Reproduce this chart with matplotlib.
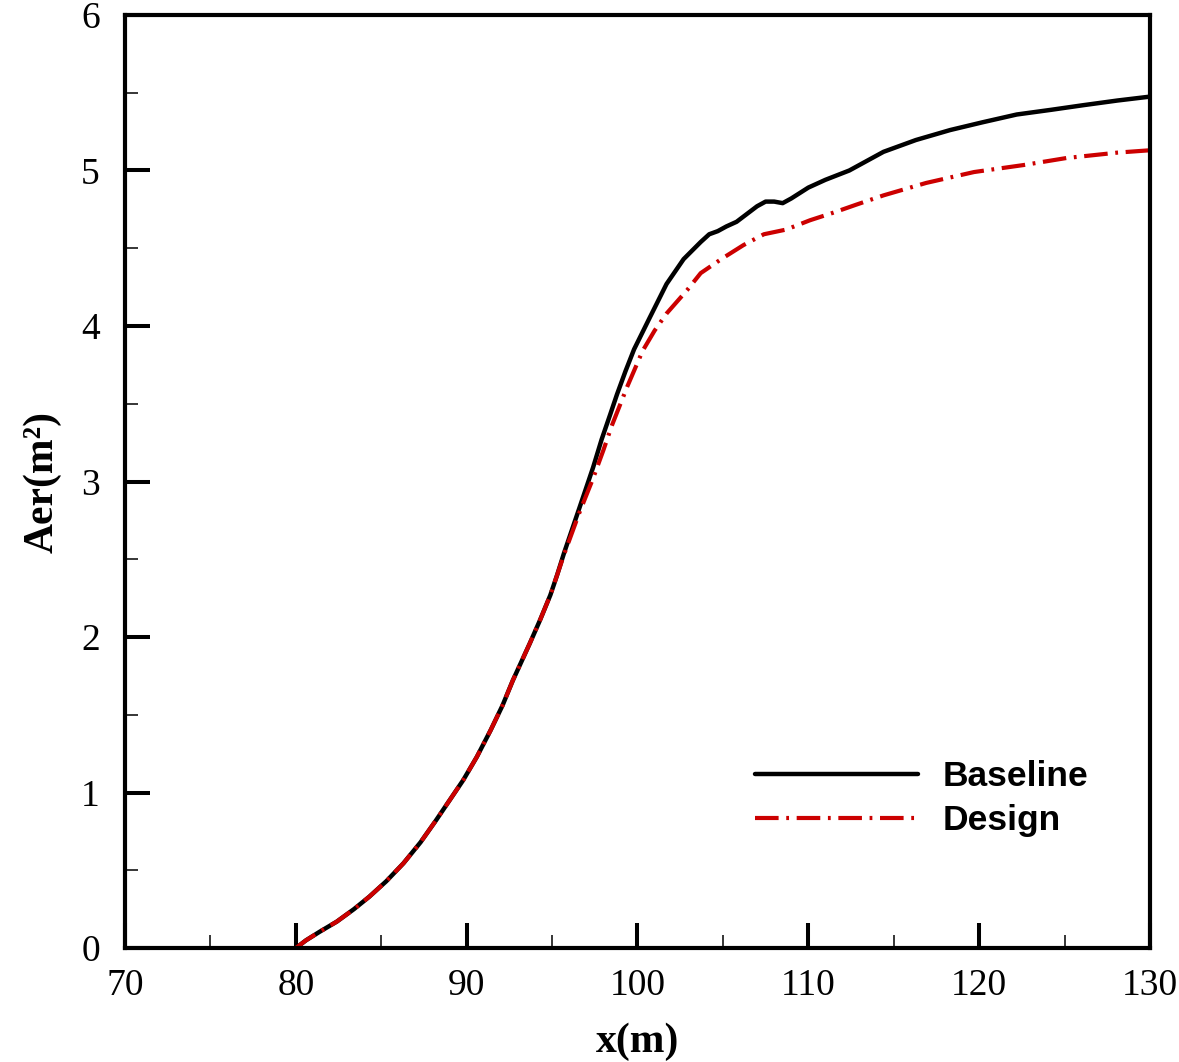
import matplotlib
matplotlib.use("Agg")
import matplotlib.pyplot as plt
from matplotlib.ticker import MultipleLocator

plt.rcParams["font.family"] = ["Liberation Serif", "DejaVu Serif"]
plt.rcParams["lines.scale_dashes"] = False

# Baseline curve
base_x = [80.0, 80.6, 81.4, 82.4, 83.4, 84.3, 85.3, 86.3, 87.3, 88.2, 89.0,
          89.8, 90.6, 91.4, 92.1, 92.7, 93.7, 94.3, 94.9, 95.3, 95.7, 96.6,
          97.0, 97.4, 97.9, 98.4, 98.8, 99.3, 99.8, 100.7, 101.7, 102.7,
          103.7, 104.2, 104.7, 105.2, 105.8, 106.4, 107.0, 107.5, 108.0,
          108.5, 109.0, 110.0, 111.0, 112.4, 114.4, 116.3, 118.3, 120.2,
          122.2, 124.2, 126.1, 128.1, 130.0]
base_y = [0.0, 0.05, 0.105, 0.17, 0.25, 0.33, 0.43, 0.545, 0.68, 0.82, 0.95,
          1.08, 1.23, 1.40, 1.56, 1.72, 1.96, 2.11, 2.27, 2.40, 2.54, 2.83,
          2.96, 3.09, 3.27, 3.43, 3.56, 3.71, 3.85, 4.05, 4.27, 4.43,
          4.54, 4.59, 4.61, 4.64, 4.67, 4.72, 4.77, 4.80, 4.80,
          4.79, 4.82, 4.89, 4.94, 5.00, 5.12, 5.196, 5.26, 5.31,
          5.36, 5.39, 5.42, 5.45, 5.475]

# Design curve
design_x = [80.0, 80.6, 81.4, 82.4, 83.4, 84.3, 85.3, 86.3, 87.3, 88.2, 89.0,
            89.8, 90.6, 91.4, 92.1, 92.7, 93.7, 94.3, 94.9, 95.3, 95.7, 96.6,
            97.4, 98.0, 98.5, 99.4, 100.3, 101.0, 101.7, 102.9, 103.7, 104.9,
            106.2, 107.4, 108.7, 110.1, 111.5, 112.8, 114.4, 116.9, 119.7,
            122.6, 125.1, 128.1, 130.0]
design_y = [0.0, 0.05, 0.105, 0.17, 0.25, 0.33, 0.43, 0.545, 0.68, 0.82, 0.95,
            1.08, 1.23, 1.40, 1.56, 1.72, 1.96, 2.11, 2.27, 2.40, 2.53, 2.80,
            3.02, 3.20, 3.36, 3.61, 3.84, 3.97, 4.08, 4.23, 4.34, 4.43,
            4.52, 4.59, 4.62, 4.68, 4.73, 4.78, 4.84, 4.92, 4.99,
            5.035, 5.08, 5.115, 5.13]

fig = plt.figure(figsize=(11.79, 10.62), dpi=100)
ax = fig.add_axes([0.106, 0.1073, 0.8694, 0.8786])

ax.plot(base_x, base_y, color="black", linewidth=3.2, label="Baseline",
        solid_capstyle="round")
ax.plot(design_x, design_y, color="#cc0000", linewidth=3.0, label="Design",
        dashes=(17, 5.5, 2, 5.5))

ax.set_xlim(70, 130)
ax.set_ylim(0, 6)
ax.xaxis.set_major_locator(MultipleLocator(10))
ax.xaxis.set_minor_locator(MultipleLocator(5))
ax.yaxis.set_major_locator(MultipleLocator(1))
ax.yaxis.set_minor_locator(MultipleLocator(0.5))

for s in ax.spines.values():
    s.set_linewidth(3.0)
ax.tick_params(which="major", direction="in", length=18, width=2.9,
               labelsize=27, top=False, right=False)
ax.tick_params(which="minor", direction="in", length=9.5, width=1.1,
               top=False, right=False)
ax.tick_params(axis="x", which="major", pad=15)
ax.tick_params(axis="y", which="major", pad=18)

ax.set_xlabel("x(m)", fontsize=30, fontweight="bold", labelpad=14)
ax.set_ylabel("Aer(m²)", fontsize=30, fontweight="bold", labelpad=14)

ax.legend(loc="upper left", bbox_to_anchor=(0.597, 0.22), frameon=False,
          borderpad=0, handlelength=4.6, handletextpad=0.7, labelspacing=0.3,
          prop={"family": "Liberation Sans", "weight": "bold", "size": 25.5})

fig.savefig("out.png", dpi=100)
